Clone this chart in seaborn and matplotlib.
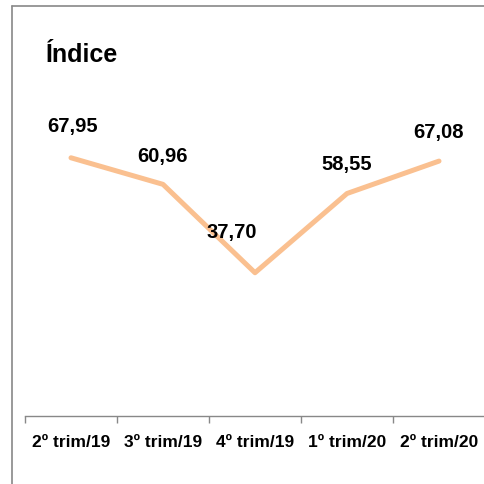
import matplotlib
matplotlib.use("Agg")
import matplotlib.pyplot as plt
import seaborn as sns
import pandas as pd
from matplotlib.lines import Line2D

categories = ["2º trim/19", "3º trim/19", "4º trim/19", "1º trim/20", "2º trim/20"]
values = [67.95, 60.96, 37.70, 58.55, 67.08]
labels = ["67,95", "60,96", "37,70", "58,55", "67,08"]
label_offsets = [(2, 32), (-1, 29), (-23, 41), (0, 30), (-1, 30)]

sns.set_theme(style="white")
fam = ["Liberation Sans", "DejaVu Sans"]
plt.rcParams["font.family"] = fam
plt.rcParams["text.color"] = "black"
plt.rcParams["xtick.color"] = "black"

fig = plt.figure(figsize=(4.85, 4.85), dpi=100)
ax = fig.add_axes([25/485, 68/485, 460/485, 380/485])

df = pd.DataFrame({"cat": categories, "val": values})
df["x"] = range(len(df))
sns.lineplot(data=df, x="x", y="val", ax=ax, color="#FAC090", linewidth=3.6, sort=False)

for i, (v, lab, off) in enumerate(zip(values, labels, label_offsets)):
    ax.annotate(lab, (i, v), xytext=off, textcoords="offset pixels",
                ha="center", va="center", fontsize=14.5, fontweight="bold", color="black")

ax.set_xlim(-0.5, len(categories) - 0.5)
ax.set_ylim(0, 100)
ax.set_xlabel("")
ax.set_ylabel("")
ax.set_yticks([])
ax.set_xticks(range(len(categories)))
ax.set_xticklabels(categories, fontsize=12.5, fontweight="bold", color="black")
ax.tick_params(axis="x", length=0, pad=13)
ax.set_xticks([i - 0.5 for i in range(len(categories) + 1)], minor=True)
ax.tick_params(axis="x", which="minor", length=5, width=1, color="#888888", direction="out", bottom=True)
for s in ["top", "right", "left"]:
    ax.spines[s].set_visible(False)
ax.spines["bottom"].set_color("#888888")
ax.spines["bottom"].set_linewidth(1)

fig.text(46/485, 1 - 55/485, "Índice", fontsize=18, fontweight="bold", ha="left", va="center", color="black")

# outer frame (top and left edges visible)
fig.add_artist(Line2D([12/485, 12/485], [0, 1 - 7/485], transform=fig.transFigure,
                      color="#888888", linewidth=1.2))
fig.add_artist(Line2D([12/485, 1], [1 - 7/485, 1 - 7/485], transform=fig.transFigure,
                      color="#888888", linewidth=1.2))

fig.savefig("out.png", dpi=100)
